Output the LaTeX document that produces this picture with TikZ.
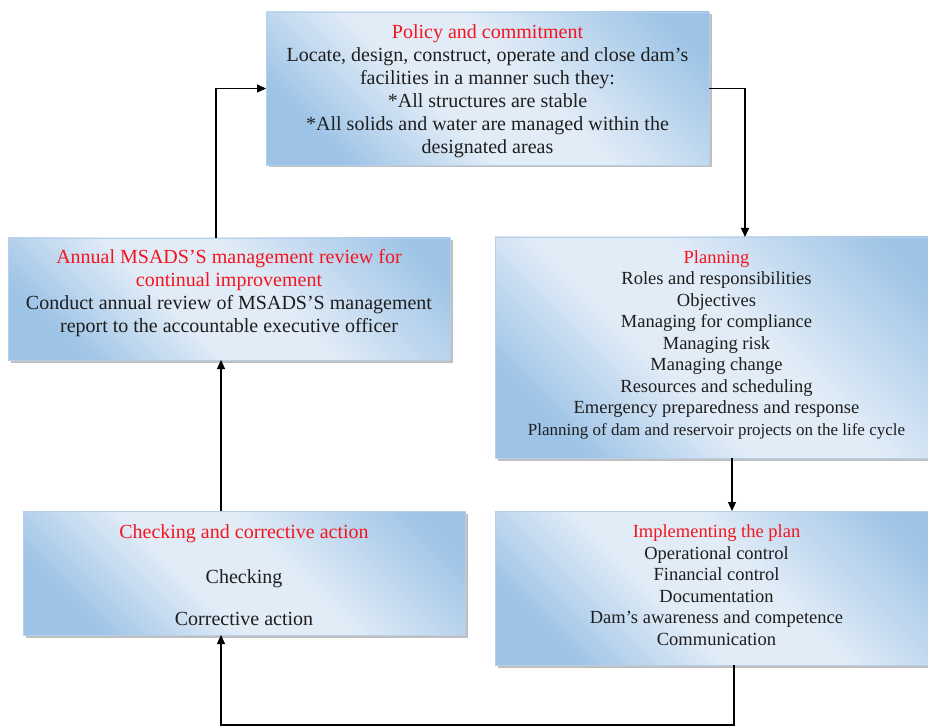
\documentclass[tikz,border=0pt]{standalone}
\usepackage{fontspec}
\setmainfont{Liberation Serif}
\usetikzlibrary{shadows,arrows.meta}
\definecolor{bdark}{HTML}{9DC3E6}
\definecolor{blight}{HTML}{E1ECF7}
\definecolor{bborder}{HTML}{B8D0EA}
\definecolor{ttl}{HTML}{F5141E}
\definecolor{txt}{HTML}{1E1E1E}
\pgfdeclareverticalshading{boxsh}{100bp}{color(0bp)=(bdark); color(24bp)=(bdark); color(42bp)=(blight); color(56bp)=(blight); color(80bp)=(bdark); color(100bp)=(bdark)}
\newcommand{\ttlc}[1]{\textcolor{ttl}{#1}}
\begin{document}
\begin{tikzpicture}[x=1pt,y=-1pt,
  box/.style={draw=bborder, line width=0.6pt, shading=boxsh, shading angle=-45,
    drop shadow={shadow xshift=2.5pt,shadow yshift=-2.5pt,fill=black!50,opacity=0.5},
    inner sep=0pt, outer sep=0pt},
  boxtext/.style={align=center, text=txt, inner sep=0pt},
  fa/.style={font=\fontsize{20}{23}\selectfont},
  fb/.style={font=\fontsize{18.5}{21.5}\selectfont},
  arr/.style={line width=1.3pt, -{Triangle[length=9pt,width=8pt]}}]
\useasboundingbox (0,0) rectangle (928,727);
% boxes
\node[box,minimum width=443pt,minimum height=153pt] (policy) at (487.5,88.5) {};
\node[box,minimum width=442pt,minimum height=122pt] (annual) at (229,299) {};
\node[box,minimum width=445pt,minimum height=221pt] (planning) at (717.5,347.5) {};
\node[box,minimum width=442pt,minimum height=124pt] (checking) at (244,573) {};
\node[box,minimum width=445pt,minimum height=154pt] (impl) at (717.5,588) {};
% texts
\node[boxtext,fa] (policyt) at (487.5,91.5)
 {\ttlc{Policy and commitment}\\
  Locate, design, construct, operate and close dam’s\\
  facilities in a manner such they:\\
  *All structures are stable\\
  *All solids and water are managed within the\\
  designated areas};
\node[boxtext,fa] (annualt) at (229,293)
 {\ttlc{Annual MSADS’S management review for}\\
  \ttlc{continual improvement}\\
  Conduct annual review of MSADS’S management\\
  report to the accountable executive officer};
\node[boxtext,fb] (planningt) at (716.5,344.5)
 {\ttlc{Planning}\\
  Roles and responsibilities\\
  Objectives\\
  Managing for compliance\\
  Managing risk\\
  Managing change\\
  Resources and scheduling\\
  Emergency preparedness and response\\
  {\fontsize{17}{21}\selectfont Planning of dam and reservoir projects on the life cycle}};
\node[boxtext,fa] (checkingt) at (244,575.5)
 {\ttlc{Checking and corrective action}\\[22pt]
  Checking\\[19pt]
  Corrective action};
\node[boxtext,fb] (implt) at (716.5,585)
 {\ttlc{Implementing the plan}\\
  Operational control\\
  Financial control\\
  Documentation\\
  Dam’s awareness and competence\\
  Communication};
% connectors
\coordinate (bot) at (734,725);
\draw[arr] ([xshift=-13pt]annual.north) |- (policy.west);
\draw[arr] (policy.east) -| ([xshift=27.5pt]planning.north);
\draw[arr] ([xshift=14.5pt]planning.south) -- ([xshift=14.5pt]impl.north);
\draw[arr] (impl.south -| bot) -- (bot) -| ([xshift=-23pt]checking.south);
\draw[arr] ([xshift=-23pt]checking.north) -- ([xshift=-23pt]checking.north |- annual.south);
\end{tikzpicture}
\end{document}
